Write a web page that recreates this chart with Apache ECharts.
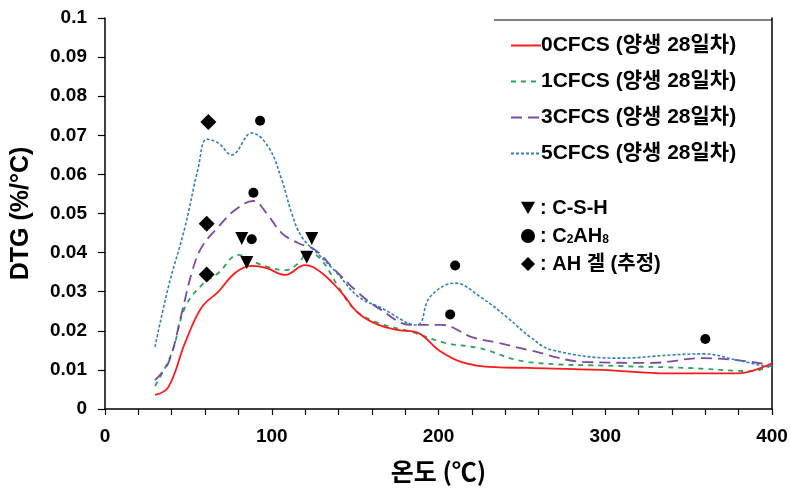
<!DOCTYPE html>
<html>
<head>
<meta charset="utf-8">
<script src="https://cdn.jsdelivr.net/npm/echarts@6/dist/echarts.min.js"></script>
<style>
  html, body { margin: 0; padding: 0; background: #fff; }
  #main { width: 791px; height: 492px; }
</style>
</head>
<body>
<div id="main"></div>
<script>
// 온도 (℃) / DTG (%/℃)
var seriesNames = ['0CFCS (양생 28일차)', '1CFCS (양생 28일차)', '3CFCS (양생 28일차)', '5CFCS (양생 28일차)'];

var temp0 = [30, 38, 48, 58, 68, 78, 88, 97, 108, 120, 130, 142, 152, 164, 176, 188, 200, 214, 234, 254, 298, 338, 379, 400];
var dtg0  = [0.0036, 0.0056, 0.0169, 0.026, 0.030, 0.0348, 0.0366, 0.036, 0.0343, 0.0368, 0.0348, 0.0297, 0.0245, 0.0215, 0.0202, 0.0194, 0.0151, 0.012, 0.0107, 0.0105, 0.0100, 0.0091, 0.0091, 0.0117];

var temp1 = [30, 40, 48, 58, 68, 80, 90, 98, 108, 116, 122, 130, 140, 150, 164, 184, 204, 224, 254, 308, 349, 388, 400];
var dtg1  = [0.0059, 0.0143, 0.026, 0.0317, 0.0348, 0.0394, 0.0375, 0.0363, 0.0355, 0.0373, 0.0402, 0.038, 0.0312, 0.0253, 0.022, 0.0197, 0.0169, 0.0156, 0.012, 0.011, 0.0105, 0.0097, 0.0112];

var temp3 = [30, 38, 46, 52, 58, 68, 78, 89, 97, 106, 116, 126, 138, 152, 164, 184, 202, 220, 236, 254, 289, 328, 358, 379, 400];
var dtg3  = [0.0074, 0.0118, 0.0245, 0.0348, 0.0414, 0.0466, 0.0509, 0.0532, 0.050, 0.045, 0.0424, 0.0407, 0.0355, 0.0297, 0.0258, 0.0215, 0.0215, 0.0184, 0.0169, 0.0151, 0.012, 0.0118, 0.013, 0.0125, 0.0112];

var temp5 = [30, 38, 48, 56, 61, 68, 76, 88, 98, 106, 112, 118, 127, 139, 152, 165, 187, 195, 210, 225, 241, 255, 268, 309, 339, 359, 379, 400];
var dtg5  = [0.0159, 0.0312, 0.0466, 0.0619, 0.069, 0.068, 0.065, 0.0706, 0.067, 0.0586, 0.050, 0.044, 0.040, 0.0348, 0.0287, 0.026, 0.0215, 0.0287, 0.0322, 0.0287, 0.0235, 0.0184, 0.0151, 0.013, 0.0138, 0.0141, 0.0125, 0.0105];

// peak markers
var markNames = ['C-S-H', 'C2AH8', 'AH 겔 (추정)'];
var cshTemp = [82, 85, 124, 121];
var cshDtg  = [0.0436, 0.0375, 0.0436, 0.0388];
var c2ahTemp = [93, 89, 88, 210, 207, 360];
var c2ahDtg  = [0.0737, 0.0553, 0.0434, 0.0367, 0.0242, 0.0179];
var ahTemp = [62, 61, 61];
var ahDtg  = [0.0734, 0.0474, 0.0344];

function pairs(xs, ys) {
    return xs.map(function (x, i) { return [x, ys[i]]; });
}

var latin = 'Liberation Sans, Arial, sans-serif';
var mixed = 'Liberation Sans, Noto Sans CJK KR, sans-serif';
var kr = 'Noto Sans CJK KR, sans-serif';
var downTri = 'path://M0,0 L10,0 L5,9 Z';

var myChart = echarts.init(document.getElementById('main'));
var option = {
    animation: false,
    backgroundColor: '#fff',
    grid: { left: 105, right: 19, top: 18, bottom: 83 },
    legend: [{
        data: seriesNames,
        orient: 'vertical',
        left: 505,
        top: 30,
        itemWidth: 30,
        itemHeight: 10,
        itemGap: 15,
        itemStyle: { opacity: 0 },
        textStyle: { color: '#000', fontSize: 21, fontWeight: 'bold', fontFamily: mixed, padding: [0, 0, 0, -5] }
    }, {
        data: [
            { name: markNames[0], icon: downTri },
            { name: markNames[1], icon: 'circle' },
            { name: markNames[2], icon: 'diamond' }
        ],
        orient: 'vertical',
        left: 516,
        top: 193,
        itemWidth: 14,
        itemHeight: 14,
        itemGap: 8,
        formatter: function (name) {
            if (name === 'C2AH8') return ': C{sub|2}AH{sub|8}';
            return ': ' + name;
        },
        textStyle: {
            color: '#000', fontSize: 20, fontWeight: 'bold', fontFamily: mixed,
            rich: { sub: { fontSize: 12, fontWeight: 'bold', fontFamily: latin, verticalAlign: 'bottom', padding: [8, 0, 0, 0] } }
        }
    }],
    xAxis: {
        type: 'value',
        min: 0, max: 400, interval: 100,
        name: '온도 (℃)',
        nameLocation: 'middle',
        nameGap: 50,
        nameTextStyle: { color: '#000', fontSize: 25, fontWeight: 'bold', fontFamily: kr },
        axisLine: { lineStyle: { color: '#000', width: 1.5 } },
        axisTick: { length: 6, lineStyle: { color: '#000', width: 1.2 } },
        minorTick: { show: true, splitNumber: 5, length: 6, lineStyle: { color: '#000', width: 1.2 } },
        axisLabel: { color: '#000', fontSize: 19, fontWeight: 'bold', fontFamily: latin, margin: 18 },
        splitLine: { show: false }
    },
    yAxis: [{
        type: 'value',
        min: 0, max: 0.1, interval: 0.01,
        name: 'DTG (%/°C)',
        nameLocation: 'middle',
        nameGap: 71,
        nameTextStyle: { color: '#000', fontSize: 25, fontWeight: 'bold', fontFamily: latin },
        axisLine: { show: true, lineStyle: { color: '#000', width: 1.5 } },
        axisTick: { show: true, length: 7, lineStyle: { color: '#000', width: 1.2 } },
        axisLabel: {
            color: '#000', fontSize: 19, fontWeight: 'bold', fontFamily: latin, margin: 18,
            formatter: function (v) { return String(+v.toFixed(2)); }
        },
        splitLine: { show: false }
    }, {
        type: 'value',
        position: 'right',
        min: 0, max: 0.1, interval: 0.01,
        axisLine: { show: true, lineStyle: { color: '#000', width: 1.5 } },
        axisTick: { show: false },
        axisLabel: { show: false },
        splitLine: { show: false }
    }],
    graphic: [{
        type: 'line',
        shape: { x1: 494, y1: 20, x2: 772, y2: 20 },
        style: { stroke: '#000', lineWidth: 1.2 }
    }],
    series: [{
        name: seriesNames[0], type: 'line', smooth: 0.4, symbol: 'none',
        data: pairs(temp0, dtg0),
        lineStyle: { color: '#ff1a1a', width: 1.8, type: 'solid' },
        itemStyle: { color: '#ff1a1a' }, z: 4
    }, {
        name: seriesNames[1], type: 'line', smooth: 0.4, symbol: 'none',
        data: pairs(temp1, dtg1),
        lineStyle: { color: '#2ea35f', width: 1.8, type: [5, 5] },
        itemStyle: { color: '#2ea35f' }, z: 3
    }, {
        name: seriesNames[2], type: 'line', smooth: 0.4, symbol: 'none',
        data: pairs(temp3, dtg3),
        lineStyle: { color: '#7b4aa6', width: 1.8, type: [11, 6] },
        itemStyle: { color: '#7b4aa6' }, z: 3
    }, {
        name: seriesNames[3], type: 'line', smooth: 0.4, symbol: 'none',
        data: pairs(temp5, dtg5),
        lineStyle: { color: '#2f7fb8', width: 1.6, type: [3, 2] },
        itemStyle: { color: '#2f7fb8' }, z: 3
    }, {
        name: markNames[0], type: 'scatter', symbol: 'triangle', symbolRotate: 180, symbolSize: 13,
        data: pairs(cshTemp, cshDtg),
        itemStyle: { color: '#000', opacity: 1 }, z: 5
    }, {
        name: markNames[1], type: 'scatter', symbol: 'circle', symbolSize: 10,
        data: pairs(c2ahTemp, c2ahDtg),
        itemStyle: { color: '#000', opacity: 1 }, z: 5
    }, {
        name: markNames[2], type: 'scatter', symbol: 'diamond', symbolSize: 16,
        data: pairs(ahTemp, ahDtg),
        itemStyle: { color: '#000', opacity: 1 }, z: 5
    }]
};
myChart.setOption(option);
</script>
</body>
</html>
